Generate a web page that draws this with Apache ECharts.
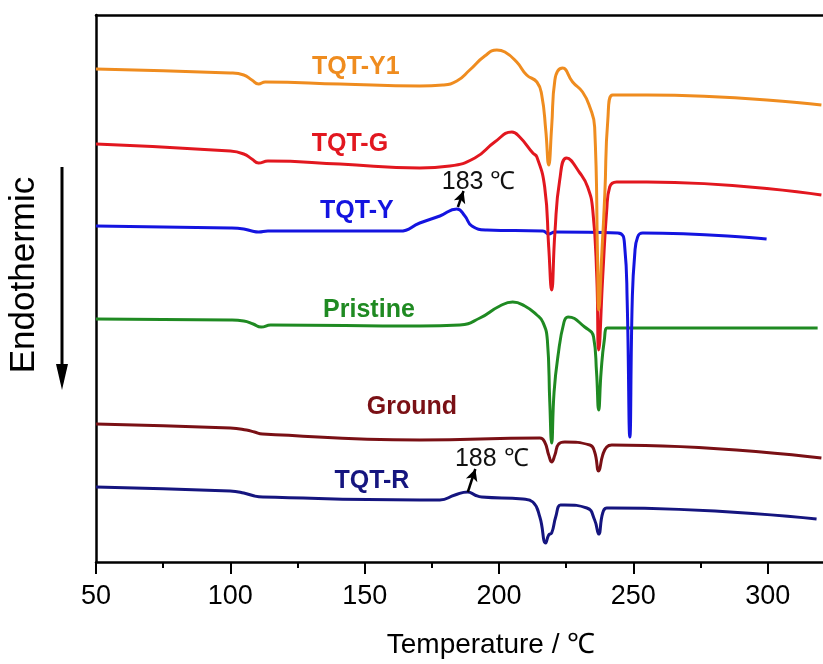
<!DOCTYPE html>
<html>
<head>
<meta charset="utf-8">
<script src="https://cdn.jsdelivr.net/npm/echarts@6/dist/echarts.min.js"></script>
<style>
  html, body { margin: 0; padding: 0; background: #fff; }
  #chart { width: 823px; height: 664px; }
</style>
</head>
<body>
<div id="chart"></div>
<script>
// DSC 曲線 [溫度 ℃, 熱流 a.u.]
const tqtY1 = [[50,493],[100,489],[105,487],[108,482],[110.5,478],[113,480],[140.8,478],[170.5,476],[179.1,477],[184.3,481],[189.1,492],[194.7,506],[199.2,512],[202.2,510],[206.6,500],[210.3,487],[214.1,480],[215.9,467],[217.4,432],[218.5,397],[219.6,435],[220.8,482],[223.7,494],[227.4,480],[231.1,470],[233.8,455],[235.6,435],[236.7,302],[237.1,252],[238.3,310],[239.4,369],[240.5,442],[242.3,467],[255,467],[320,457]];
const tqtG = [[50,418],[100,411],[105,408],[108,403],[110.5,399],[114,401],[140.8,398],[170.5,394],[181.7,396],[191,404],[198.4,420],[204.8,430],[207.7,425],[212.6,409],[214.1,405],[217,375],[218.5,315],[219.6,272],[220.8,329],[222.6,382],[225.2,404],[230.1,389],[233,375],[234.9,352],[236.4,285],[237.1,212],[238.6,285],[240.1,352],[241.2,375],[243.8,380],[255,380],[320,367]];
const tqtY = [[50,336],[100,334],[105,333],[108,331],[110.5,330],[114,331],[163.1,331],[170.5,339],[178,346],[184.3,353],[187.3,346],[189.9,336],[195.5,332],[216.3,331],[218.5,328],[220.8,330],[244.2,329],[246.8,315],[247.7,262],[248.7,125],[249.6,262],[250.5,307],[251.6,325],[253.5,329],[299.6,323]];
const pristine = [[50,243],[100,242],[105,241],[108.5,238],[111.5,235],[115,237],[170.5,236],[185.4,237],[192.9,244],[200.3,256],[205.1,260],[209.6,256],[214.1,247],[216.3,240],[218,222],[218.9,160],[219.6,119],[220.5,170],[221.9,205],[224.2,240],[225.7,245],[231.9,235],[235.2,225],[236.3,190],[237.1,152],[238,190],[239.2,222],[240.3,234],[242,234],[318.6,234]];
const ground = [[50,138],[100,134],[106,132],[109,130],[112,128],[170.5,122],[215.2,124],[217,120],[218.5,107],[219.6,100],[220.8,107],[222.2,118],[224.5,120],[233.8,117],[235.6,110],[237.1,91],[238.6,107],[240.1,115],[242,117],[320,104]];
const tqtR = [[50,75],[99.9,71],[105,69],[109,66],[112.1,65],[170.5,62],[178,62],[183.6,67],[188.4,70],[191,67],[193.6,65],[208.9,63],[212.6,60],[215.2,45],[217.4,19],[218.5,27],[219.6,29],[221.1,45],[222.9,57],[224.5,57],[232.7,54],[235.6,42],[237.1,28],[238.6,49],[240.1,54],[242,54],[318.2,43]];

const names = ['TQT-R', 'Ground', 'Pristine', 'TQT-Y', 'TQT-G', 'TQT-Y1'];
const colors = ['#15157f', '#7a1015', '#1f8a22', '#1414e0', '#e2171f', '#ef8c1f'];
const curves = [tqtR, ground, pristine, tqtY, tqtG, tqtY1];
// 曲線名稱的位置 [溫度, 熱流]
const labelPos = [[152.7,81],[167.6,155],[151.6,252],[147.1,351],[144.5,418],[146.7,495]];
// 峰值標註
const peakTexts = ['183 ℃', '188 ℃'];
const peakTextPos = [[178.7,380],[183.6,103]];
const peakArrows = [[[184.7,355],[186.8,371]], [[188.4,70],[191.2,93]]];

const chart = echarts.init(document.getElementById('chart'));

const series = curves.map((d, i) => ({
  name: names[i],
  type: 'line',
  data: d,
  showSymbol: false,
  smooth: 0.5,
  lineStyle: { color: colors[i], width: 3 },
  itemStyle: { color: colors[i] },
  markPoint: {
    silent: true,
    symbolSize: 0,
    data: [{
      coord: labelPos[i],
      label: {
        show: true, position: 'inside', formatter: names[i],
        color: colors[i], fontSize: 25, fontWeight: 'bold',
        fontFamily: 'Liberation Sans, Arial, sans-serif'
      }
    }]
  }
}));

// 標註用的空系列
series.push({
  type: 'line',
  data: [],
  markPoint: {
    silent: true,
    symbolSize: 0,
    data: peakTexts.map((t, i) => ({
      coord: peakTextPos[i],
      label: {
        show: true, position: 'inside', align: 'left', formatter: t,
        color: '#111', fontSize: 25,
        fontFamily: 'Liberation Sans, Arial, sans-serif'
      }
    }))
  },
  markLine: {
    silent: true,
    symbol: ['none', 'arrow'],
    symbolSize: [9, 12],
    lineStyle: { color: '#000', width: 2.5, type: 'solid' },
    label: { show: false },
    data: peakArrows.map(a => [{ coord: a[0] }, { coord: a[1] }])
  }
});

const option = {
  animation: false,
  backgroundColor: '#fff',
  grid: { left: 96, top: 15, width: 806, height: 547, outerBoundsMode: 'none', containLabel: false },
  xAxis: [{
    type: 'value',
    min: 50,
    max: 350,
    interval: 50,
    position: 'bottom',
    name: 'Temperature / ℃',
    nameLocation: 'middle',
    nameGap: 69,
    nameTextStyle: { color: '#000', fontSize: 28, fontFamily: 'Liberation Sans, Arial, sans-serif', padding: [0, 16, 0, 0] },
    axisLine: { show: true, lineStyle: { color: '#000', width: 2.5 } },
    axisTick: { show: true, inside: false, length: 12, lineStyle: { color: '#000', width: 2 } },
    minorTick: { show: true, splitNumber: 2, length: 6, lineStyle: { color: '#000', width: 2 } },
    axisLabel: { color: '#000', fontSize: 27, margin: 21, fontFamily: 'Liberation Sans, Arial, sans-serif', showMaxLabel: false },
    splitLine: { show: false },
    minorSplitLine: { show: false }
  }, {
    type: 'value',
    min: 50,
    max: 350,
    position: 'top',
    axisLine: { show: true, lineStyle: { color: '#000', width: 2.5 } },
    axisTick: { show: false },
    axisLabel: { show: false },
    splitLine: { show: false }
  }],
  yAxis: {
    type: 'value',
    min: 0,
    max: 547,
    axisLine: { show: true, lineStyle: { color: '#000', width: 2.5 } },
    axisTick: { show: false },
    axisLabel: { show: false },
    splitLine: { show: false }
  },
  graphic: [
    {
      type: 'text',
      x: 24, y: 275,
      rotation: Math.PI / 2,
      style: {
        text: 'Endothermic', fill: '#000', fontSize: 35,
        fontFamily: 'Liberation Sans, Arial, sans-serif',
        align: 'center', verticalAlign: 'middle'
      }
    },
    {
      type: 'line',
      shape: { x1: 62, y1: 167, x2: 62, y2: 368 },
      style: { stroke: '#000', lineWidth: 3 }
    },
    {
      type: 'polygon',
      shape: { points: [[56, 364], [68, 364], [62, 390]] },
      style: { fill: '#000' }
    }
  ],
  series: series
};

chart.setOption(option);
</script>
</body>
</html>
